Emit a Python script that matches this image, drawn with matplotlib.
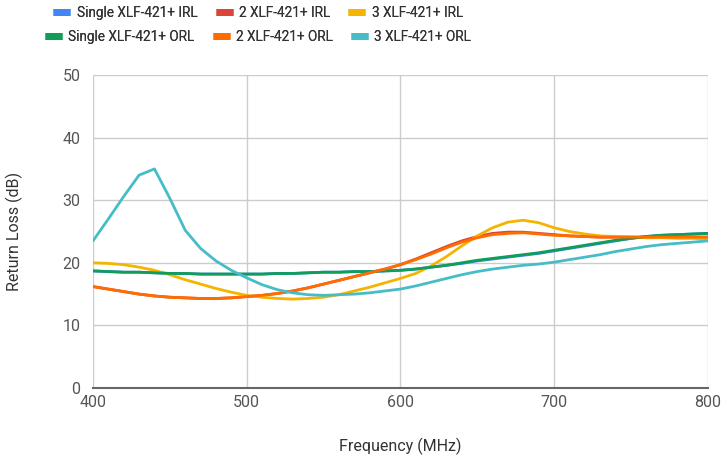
import matplotlib
matplotlib.use('Agg')
import matplotlib.pyplot as plt

plt.rcParams['font.family'] = ['Roboto', 'DejaVu Sans']

# Frequency points (MHz)
freq = [400, 410, 420, 430, 440, 450, 460, 470, 480, 490,
        500, 510, 520, 530, 540, 550, 560, 570, 580, 590,
        600, 610, 620, 630, 640, 650, 660, 670, 680, 690,
        700, 710, 720, 730, 740, 750, 760, 770, 780, 790, 800]

# Return loss (dB)
single_irl = [18.7, 18.6, 18.5, 18.5, 18.4, 18.3, 18.3, 18.2, 18.2, 18.2,
              18.2, 18.2, 18.3, 18.3, 18.4, 18.5, 18.5, 18.6, 18.6, 18.7,
              18.8, 19.0, 19.3, 19.6, 19.9, 20.3, 20.6, 20.9, 21.2, 21.5,
              21.9, 22.3, 22.7, 23.1, 23.5, 23.9, 24.2, 24.4, 24.5, 24.6, 24.7]
two_irl = [16.2, 15.8, 15.4, 15.0, 14.7, 14.5, 14.4, 14.3, 14.3, 14.4,
           14.6, 14.8, 15.1, 15.5, 16.0, 16.6, 17.2, 17.8, 18.4, 19.0,
           19.7, 20.6, 21.6, 22.6, 23.5, 24.2, 24.7, 24.9, 24.9, 24.7,
           24.5, 24.3, 24.2, 24.1, 24.1, 24.1, 24.1, 24.1, 24.1, 24.1, 24.1]
three_irl = [20.0, 19.9, 19.7, 19.3, 18.8, 18.1, 17.3, 16.6, 15.9, 15.3,
             14.8, 14.5, 14.3, 14.2, 14.3, 14.5, 14.9, 15.5, 16.1, 16.8,
             17.5, 18.3, 19.5, 21.0, 22.7, 24.3, 25.6, 26.5, 26.8, 26.4,
             25.6, 25.0, 24.6, 24.3, 24.2, 24.1, 24.0, 24.0, 23.9, 23.9, 23.8]
single_orl = [18.7, 18.6, 18.5, 18.5, 18.4, 18.3, 18.3, 18.2, 18.2, 18.2,
              18.2, 18.2, 18.3, 18.3, 18.4, 18.5, 18.5, 18.6, 18.6, 18.7,
              18.8, 19.0, 19.3, 19.6, 20.0, 20.4, 20.7, 21.0, 21.3, 21.6,
              22.0, 22.4, 22.8, 23.2, 23.6, 23.9, 24.2, 24.4, 24.5, 24.6, 24.7]
two_orl = [16.2, 15.8, 15.4, 15.0, 14.7, 14.5, 14.4, 14.3, 14.3, 14.4,
           14.6, 14.8, 15.1, 15.5, 16.0, 16.6, 17.2, 17.8, 18.4, 19.0,
           19.7, 20.5, 21.4, 22.4, 23.3, 24.0, 24.5, 24.7, 24.8, 24.6,
           24.4, 24.3, 24.2, 24.1, 24.1, 24.1, 24.1, 24.1, 24.1, 24.1, 24.1]
three_orl = [23.5, 27.0, 30.6, 34.0, 35.0, 30.3, 25.2, 22.3, 20.3, 18.8,
             17.6, 16.5, 15.7, 15.2, 14.9, 14.8, 14.9, 15.0, 15.2, 15.5,
             15.8, 16.3, 16.9, 17.5, 18.1, 18.6, 19.0, 19.3, 19.6, 19.8,
             20.1, 20.5, 20.9, 21.3, 21.8, 22.2, 22.6, 22.9, 23.1, 23.3, 23.5]

labels = ['Single XLF-421+ IRL', '2 XLF-421+ IRL', '3 XLF-421+ IRL',
          'Single XLF-421+ ORL', '2 XLF-421+ ORL', '3 XLF-421+ ORL']
colors = ['#4285F4', '#DB4437', '#F4B400', '#0F9D58', '#FF6D00', '#46BDC6']
series = [single_irl, two_irl, three_irl, single_orl, two_orl, three_orl]

fig = plt.figure(figsize=(7.23, 4.65), dpi=100)
ax = fig.add_axes([0.1286, 0.1656, 0.8504, 0.6731])

handles = []
for vals, lab, col in zip(series, labels, colors):
    h, = ax.plot(freq, vals, color=col, linewidth=2.0, label=lab,
                 solid_capstyle='round', solid_joinstyle='round')
    handles.append(h)

ax.set_xlim(400, 800)
ax.set_ylim(0, 50)
ax.set_xticks([400, 500, 600, 700, 800])
ax.set_yticks([0, 10, 20, 30, 40, 50])
ax.grid(True, color='#cccccc', linewidth=1)
ax.set_axisbelow(True)
for s in ['top', 'right', 'left']:
    ax.spines[s].set_visible(False)
ax.spines['bottom'].set_color('#666666')
ax.spines['bottom'].set_linewidth(1.5)
ax.tick_params(axis='x', length=0, labelsize=11.5, colors='#555555', pad=5)
ax.tick_params(axis='y', length=0, labelsize=11.5, colors='#555555', pad=9)
ax.set_xlabel('Frequency (MHz)', fontsize=11.5, color='#333333', labelpad=20)
ax.set_ylabel('Return Loss (dB)', fontsize=11.5, color='#333333', labelpad=28)

# two legend rows, each centered on its own
for part, ypix in [(slice(0, 3), 13), (slice(3, 6), 37)]:
    leg = fig.legend(handles[part], labels[part], loc='center', ncol=3,
                     bbox_to_anchor=(0.357, 1 - ypix / 465), frameon=False,
                     fontsize=9.8, handlelength=1.25, handletextpad=0.45,
                     columnspacing=1.35, labelcolor='#333333',
                     borderpad=0, borderaxespad=0)
    for l in leg.get_lines():
        l.set_linewidth(5)
        l.set_solid_capstyle('butt')
    fig.add_artist(leg)

fig.savefig('out.png', dpi=100)
